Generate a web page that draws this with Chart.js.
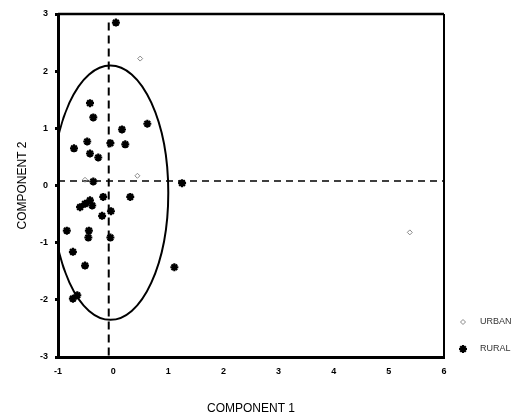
<!DOCTYPE html>
<html>
<head>
<meta charset="utf-8">
<script src="https://cdn.jsdelivr.net/npm/chart.js@4/dist/chart.umd.min.js"></script>
<style>
  html, body { margin: 0; padding: 0; background: #fff; }
  #wrap { width: 526px; height: 418px; position: relative; }
</style>
</head>
<body>
<div id="wrap"><canvas id="pca"></canvas></div>
<script>
// component scores
const ruralX = [0.05, -0.42, -0.36, 0.16, 0.62, -0.71, -0.47, -0.05, 0.22, -0.42, -0.27, -0.36, 1.25,
  -0.51, -0.60, -0.42, -0.18, 0.31, -0.20, -0.04, -0.84, -0.44, -0.45, -0.05, -0.73, -0.51, 1.11, -0.65, -0.73, -0.38];
const ruralY = [2.85, 1.44, 1.19, 0.98, 1.08, 0.65, 0.77, 0.74, 0.72, 0.56, 0.49, 0.07, 0.04,
  -0.32, -0.38, -0.26, -0.20, -0.20, -0.53, -0.45, -0.79, -0.79, -0.91, -0.91, -1.16, -1.40, -1.43, -1.92, -1.98, -0.35];
const urbanX = [0.49, 0.44, -0.51, 5.38];
const urbanY = [2.22, 0.17, 0.10, -0.82];

const xTicks = [-1, 0, 1, 2, 3, 4, 5, 6];
const yTicks = [-3, -2, -1, 0, 1, 2, 3];

// reference lines and the ellipse around the rural group
const hLineY = 0.08;
const vLineX = -0.08;
const vLineTop = 2.85;
const ellipse = { cx: -0.05, cy: -0.125, rx: 1.05, ry: 2.225 };

const FONT = "'Liberation Sans', Arial, sans-serif";

function pts(xs, ys) {
  return xs.map((x, i) => ({ x, y: ys[i] }));
}

const frameAndEllipse = {
  id: "frameAndEllipse",
  afterDatasetsDraw(chart) {
    const { ctx, chartArea: a, scales } = chart;
    const sx = scales.x, sy = scales.y;
    ctx.save();
    ctx.beginPath();
    ctx.rect(a.left, a.top, a.right - a.left, a.bottom - a.top);
    ctx.clip();
    const cx = sx.getPixelForValue(ellipse.cx);
    const cy = sy.getPixelForValue(ellipse.cy);
    const rx = sx.getPixelForValue(ellipse.cx + ellipse.rx) - cx;
    const ry = cy - sy.getPixelForValue(ellipse.cy + ellipse.ry);
    ctx.beginPath();
    ctx.ellipse(cx, cy, rx, ry, 0, 0, Math.PI * 2);
    ctx.lineWidth = 2;
    ctx.strokeStyle = "#000";
    ctx.stroke();
    ctx.restore();

    // top and right edges of the box
    ctx.save();
    ctx.strokeStyle = "#000";
    ctx.lineWidth = 2.5;
    ctx.beginPath();
    ctx.moveTo(a.left, a.top);
    ctx.lineTo(a.right, a.top);
    ctx.stroke();
    ctx.lineWidth = 2;
    ctx.beginPath();
    ctx.moveTo(a.right, a.top);
    ctx.lineTo(a.right, a.bottom);
    ctx.stroke();
    ctx.restore();
  },
  afterDraw(chart) {
    const ctx = chart.ctx;
    const items = [
      { ds: chart.data.datasets[0], y: 322 },
      { ds: chart.data.datasets[1], y: 349 },
    ];
    ctx.save();
    ctx.font = "9px " + FONT;
    ctx.textBaseline = "middle";
    for (const it of items) {
      ctx.strokeStyle = it.ds.borderColor;
      ctx.fillStyle = it.ds.backgroundColor;
      ctx.lineWidth = it.ds.borderWidth;
      Chart.helpers.drawPoint(ctx, {
        pointStyle: it.ds.pointStyle,
        radius: it.ds.pointRadius,
        rotation: 0,
        borderWidth: it.ds.borderWidth,
      }, 463, it.y);
      ctx.fillStyle = "#333";
      ctx.fillText(it.ds.label, 480, it.y);
    }
    ctx.restore();
  },
};

new Chart(document.getElementById("pca"), {
  type: "scatter",
  data: {
    datasets: [
      {
        label: "URBAN",
        data: pts(urbanX, urbanY),
        pointStyle: "rectRot",
        pointRadius: 2.5,
        borderColor: "#888",
        backgroundColor: "rgba(0,0,0,0)",
        borderWidth: 1,
      },
      {
        label: "RURAL",
        data: pts(ruralX, ruralY),
        pointStyle: "star",
        pointRadius: 4,
        borderColor: "#000",
        backgroundColor: "#000",
        borderWidth: 2.2,
      },
      {
        type: "line",
        label: "h",
        data: [{ x: -1, y: hLineY }, { x: 6, y: hLineY }],
        borderColor: "#000",
        borderWidth: 1.5,
        borderDash: [7, 5],
        pointRadius: 0,
      },
      {
        type: "line",
        label: "v",
        data: [{ x: vLineX, y: vLineTop }, { x: vLineX, y: -3 }],
        borderColor: "#000",
        borderWidth: 2,
        borderDash: [8, 5],
        pointRadius: 0,
      },
    ],
  },
  options: {
    responsive: true,
    maintainAspectRatio: false,
    animation: false,
    layout: { padding: { top: 14, right: 82, left: 0, bottom: 0 } },
    plugins: {
      legend: { display: false },
      tooltip: { enabled: false },
    },
    scales: {
      x: {
        type: "linear",
        min: -1,
        max: 6,
        afterFit: (s) => { s.height = 61; },
        afterBuildTicks: (s) => { s.ticks = xTicks.map((v) => ({ value: v })); },
        grid: { display: false, drawTicks: false },
        border: { display: true, color: "#000", width: 3 },
        ticks: { color: "#000", padding: 9, font: { family: FONT, size: 9, weight: "bold" } },
        title: {
          display: true,
          text: "COMPONENT 1",
          color: "#000",
          padding: { bottom: 2 },
          font: { family: FONT, size: 12 },
        },
      },
      y: {
        type: "linear",
        min: -3,
        max: 3,
        afterFit: (s) => { s.width = 58; },
        afterBuildTicks: (s) => { s.ticks = yTicks.map((v) => ({ value: v })); },
        grid: { display: true, drawOnChartArea: false, drawTicks: true, tickLength: 3, tickWidth: 3, tickColor: "#000" },
        border: { display: true, color: "#000", width: 3 },
        ticks: { color: "#000", padding: 7, font: { family: FONT, size: 9, weight: "bold" } },
        title: {
          display: true,
          text: "COMPONENT 2",
          color: "#000",
          padding: { top: 15 },
          font: { family: FONT, size: 12 },
        },
      },
    },
  },
  plugins: [frameAndEllipse],
});
</script>
</body>
</html>
